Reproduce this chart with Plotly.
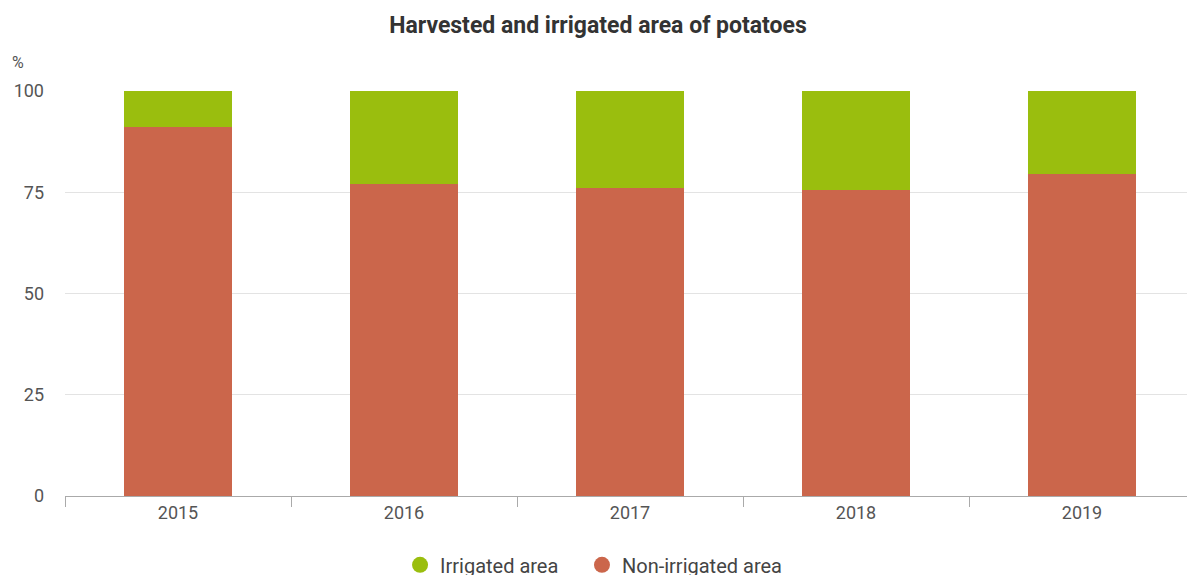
import plotly.graph_objects as go

years = ["2015", "2016", "2017", "2018", "2019"]
non_irrigated = [91, 77, 76, 75.5, 79.5]
irrigated = [9, 23, 24, 24.5, 20.5]
y_ticks = [0, 25, 50, 75, 100]

GREEN = "#9abe0e"
RED = "#cb664b"

fig = go.Figure()
fig.add_trace(go.Bar(x=years, y=non_irrigated, marker=dict(color=RED, line=dict(width=0)),
                     width=0.48, showlegend=False, name="Non-irrigated area"))
fig.add_trace(go.Bar(x=years, y=irrigated, marker=dict(color=GREEN, line=dict(width=0)),
                     width=0.48, showlegend=False, name="Irrigated area"))
# legend entries with circular symbols
fig.add_trace(go.Scatter(x=[None], y=[None], mode="markers", name="Irrigated area", legend="legend",
                         marker=dict(color=GREEN, size=20, symbol="circle")))
fig.add_trace(go.Scatter(x=[None], y=[None], mode="markers", name="Non-irrigated area", legend="legend2",
                         marker=dict(color=RED, size=20, symbol="circle")))

leg_common = dict(orientation="h", xanchor="left", y=-0.17, yanchor="middle",
                  font=dict(size=20, color="#444444"), itemsizing="trace", bgcolor="rgba(0,0,0,0)")

fig.update_layout(
    width=1195, height=575,
    barmode="stack",
    plot_bgcolor="white", paper_bgcolor="white",
    font=dict(family="Roboto", color="#555555", size=18),
    margin=dict(l=57, r=8, t=83, b=87, autoexpand=False),
    title=dict(text="<b>Harvested and irrigated area of potatoes</b>", x=(598 - 8) / 1195, xanchor="center",
               y=1 - 17 / 575, yanchor="middle", font=dict(size=23, color="#333333", family="Roboto")),
    xaxis=dict(type="category", tickson="boundaries", ticks="outside", ticklen=10, tickcolor="#aaaaaa",
               showline=True, linecolor="#aaaaaa", linewidth=1, showgrid=False, automargin=False,
               tickfont=dict(size=18, color="#555555")),
    yaxis=dict(range=[0, 100], tickvals=y_ticks, showgrid=True, gridcolor="#e3e3e3", gridwidth=1,
               zeroline=False, showline=False, ticklabelstandoff=20, automargin=False,
               tickfont=dict(size=18, color="#555555")),
    legend=dict(x=0.2965, **leg_common),
    legend2=dict(x=0.4575, **leg_common),
    showlegend=True,
    annotations=[dict(text="%", xref="paper", yref="paper", x=-0.042, y=1.07, xanchor="center",
                      yanchor="middle", showarrow=False, font=dict(size=16, color="#555555"))],
)

fig.write_html("out.html")
